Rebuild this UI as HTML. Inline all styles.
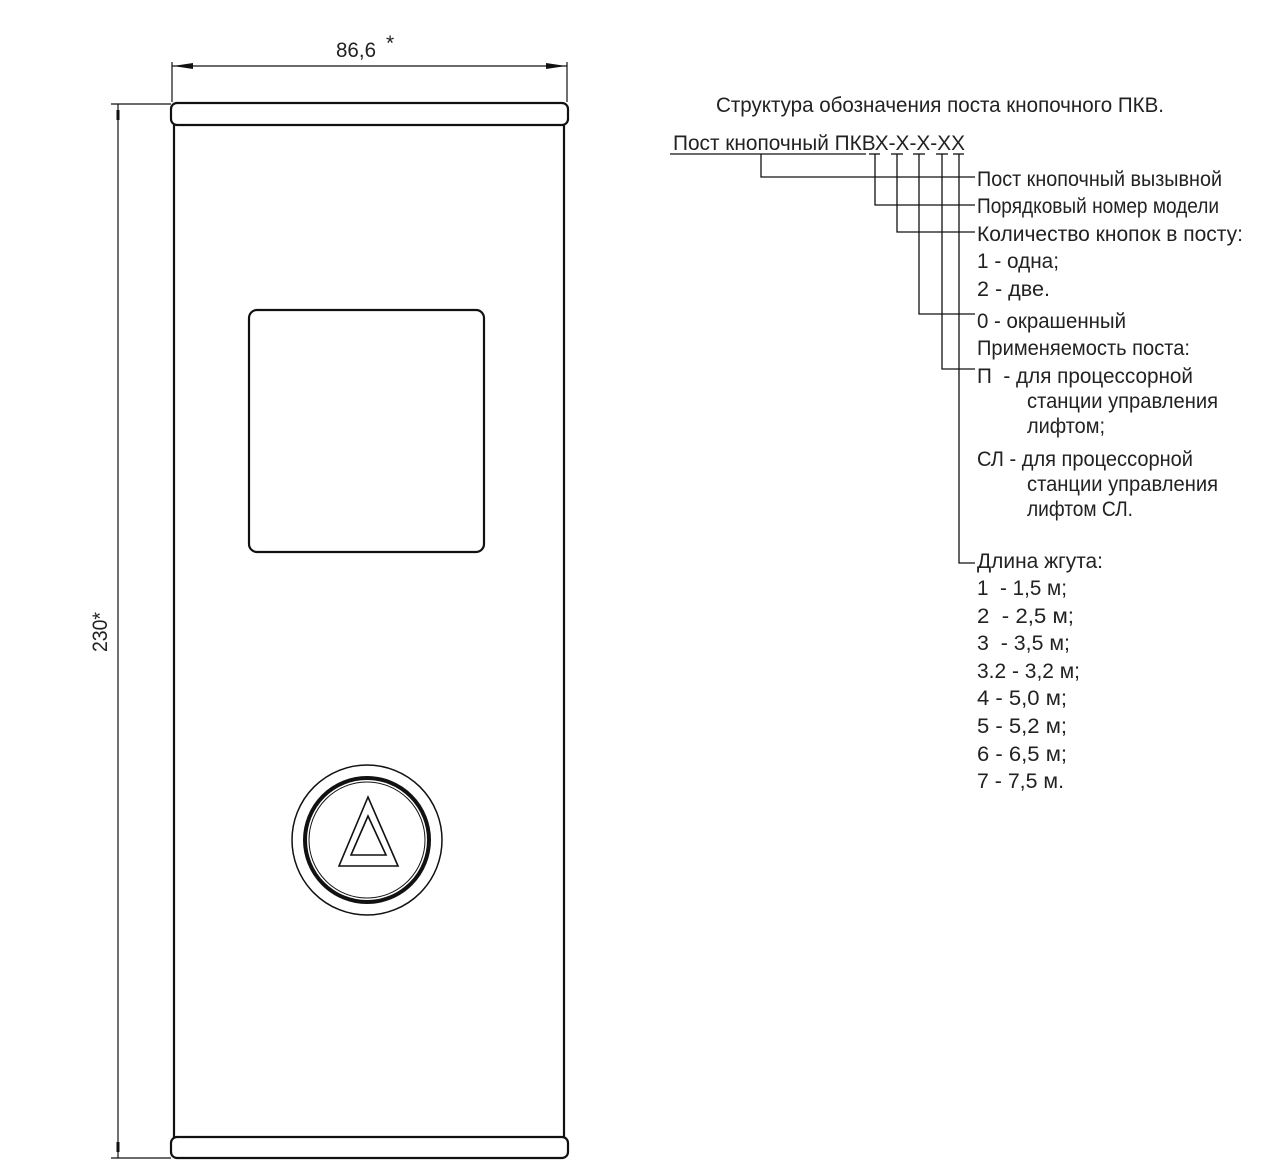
<!DOCTYPE html>
<html><head><meta charset="utf-8"><style>
html,body{margin:0;padding:0;background:#fff;}
svg{display:block;}
text{font-family:"Liberation Sans","DejaVu Sans",sans-serif;font-size:21px;fill:#222;}
</style></head><body>
<svg width="1280" height="1176" viewBox="0 0 1280 1176" xmlns="http://www.w3.org/2000/svg">
<g fill="none" stroke="#111" stroke-width="2.2">
<rect x="171" y="103" width="397" height="22" rx="6"/>
<rect x="171" y="1137" width="397" height="21" rx="6"/>
<line x1="174" y1="125" x2="174" y2="1137"/>
<line x1="564" y1="125" x2="564" y2="1137"/>
<rect x="249" y="310" width="235" height="242" rx="8"/>
<circle cx="367" cy="840" r="75" stroke-width="1.5"/>
<circle cx="367" cy="840" r="62" stroke-width="4"/>
<circle cx="367" cy="840" r="58" stroke-width="1"/>
<polygon points="368,797 339,866 398,866" stroke-width="1.6"/>
<polygon points="368,816 351,855 386,855" stroke-width="1.6"/>
</g>
<g stroke="#111" stroke-width="1.2" fill="none">
<line x1="172" y1="62" x2="172" y2="102"/>
<line x1="567" y1="62" x2="567" y2="102"/>
<line x1="172" y1="66" x2="567" y2="66"/>
<line x1="111" y1="104" x2="171" y2="104"/>
<line x1="111" y1="1158" x2="171" y2="1158"/>
<line x1="118" y1="104" x2="118" y2="1158"/>
</g>
<g fill="#111">
<polygon points="173,66 193,63 193,69"/>
<polygon points="566,66 546,63 546,69"/>
<rect x="116.5" y="110" width="3" height="10"/>
<rect x="116.5" y="1142" width="3" height="10"/>
</g>
<text x="336" y="57" textLength="40" lengthAdjust="spacingAndGlyphs">86,6</text>
<text x="386" y="50" font-size="14">*</text>
<text transform="translate(107,652) rotate(-90)" textLength="40" lengthAdjust="spacingAndGlyphs" font-size="19">230*</text>

<g stroke="#111" stroke-width="1.3" fill="none">
<line x1="670" y1="154" x2="866" y2="154"/>
<line x1="869" y1="154" x2="880" y2="154"/>
<line x1="891" y1="154" x2="903" y2="154"/>
<line x1="913" y1="154" x2="925" y2="154"/>
<line x1="936" y1="154" x2="948" y2="154"/>
<line x1="953" y1="154" x2="964" y2="154"/>
<polyline points="761,154 761,177 975,177"/>
<polyline points="875,154 875,205 975,205"/>
<polyline points="897,154 897,232 975,232"/>
<polyline points="919,154 919,314 975,314"/>
<polyline points="942,154 942,369 975,369"/>
<polyline points="959,154 959,563 975,563"/>
</g>
<text x="716" y="112" textLength="448" lengthAdjust="spacingAndGlyphs">Структура обозначения поста кнопочного ПКВ.</text>
<text x="673" y="150" textLength="292" lengthAdjust="spacingAndGlyphs">Пост кнопочный ПКВХ-Х-Х-ХХ</text>
<text x="977" y="186" textLength="245" lengthAdjust="spacingAndGlyphs">Пост кнопочный вызывной</text>
<text x="977" y="213" textLength="242" lengthAdjust="spacingAndGlyphs">Порядковый номер модели</text>
<text x="977" y="241" textLength="266" lengthAdjust="spacingAndGlyphs">Количество кнопок в посту:</text>
<text x="977" y="268" textLength="82" lengthAdjust="spacingAndGlyphs">1 - одна;</text>
<text x="977" y="296" textLength="73" lengthAdjust="spacingAndGlyphs">2 - две.</text>
<text x="977" y="328" textLength="149" lengthAdjust="spacingAndGlyphs">0 - окрашенный</text>
<text x="977" y="355" textLength="213" lengthAdjust="spacingAndGlyphs">Применяемость поста:</text>
<text x="977" y="383" textLength="216" lengthAdjust="spacingAndGlyphs">П &#160;- для процессорной</text>
<text x="1027" y="408" textLength="191" lengthAdjust="spacingAndGlyphs">станции управления</text>
<text x="1027" y="433" textLength="78" lengthAdjust="spacingAndGlyphs">лифтом;</text>
<text x="977" y="466" textLength="216" lengthAdjust="spacingAndGlyphs">СЛ - для процессорной</text>
<text x="1027" y="491" textLength="191" lengthAdjust="spacingAndGlyphs">станции управления</text>
<text x="1027" y="516" textLength="106" lengthAdjust="spacingAndGlyphs">лифтом СЛ.</text>
<text x="977" y="568" textLength="126" lengthAdjust="spacingAndGlyphs">Длина жгута:</text>
<text x="977" y="595" textLength="90" lengthAdjust="spacingAndGlyphs">1 &#160;- 1,5 м;</text>
<text x="977" y="623" textLength="97" lengthAdjust="spacingAndGlyphs">2 &#160;- 2,5 м;</text>
<text x="977" y="650" textLength="93" lengthAdjust="spacingAndGlyphs">3 &#160;- 3,5 м;</text>
<text x="977" y="678" textLength="103" lengthAdjust="spacingAndGlyphs">3.2 - 3,2 м;</text>
<text x="977" y="705" textLength="90" lengthAdjust="spacingAndGlyphs">4 - 5,0 м;</text>
<text x="977" y="733" textLength="90" lengthAdjust="spacingAndGlyphs">5 - 5,2 м;</text>
<text x="977" y="761" textLength="90" lengthAdjust="spacingAndGlyphs">6 - 6,5 м;</text>
<text x="977" y="788" textLength="87" lengthAdjust="spacingAndGlyphs">7 - 7,5 м.</text>
</svg>
</body></html>
